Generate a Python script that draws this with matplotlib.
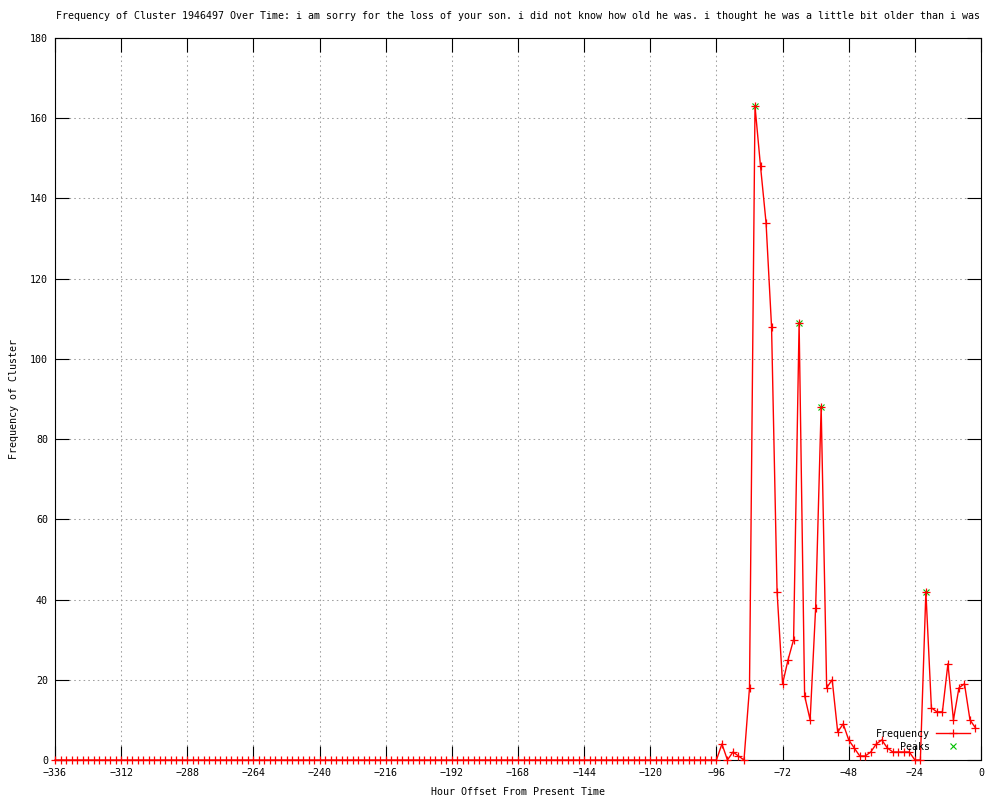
import numpy as np
import matplotlib
matplotlib.use("Agg")
import matplotlib.pyplot as plt
from matplotlib.lines import Line2D

# ── Data ─────────────────────────────────────────────────────────────────────

title = ("Frequency of Cluster 1946497 Over Time: i am sorry for the loss of your son. "
         "i did not know how old he was. i thought he was a little bit older than i was")

hours = np.arange(-336, 0, 2)

# -336 .. -96 : flat zero
freq_quiet = [
    0, 0, 0, 0, 0, 0, 0, 0, 0, 0, 0,
    0, 0, 0, 0, 0, 0, 0, 0, 0, 0, 0,
    0, 0, 0, 0, 0, 0, 0, 0, 0, 0, 0,
    0, 0, 0, 0, 0, 0, 0, 0, 0, 0, 0,
    0, 0, 0, 0, 0, 0, 0, 0, 0, 0, 0,
    0, 0, 0, 0, 0, 0, 0, 0, 0, 0, 0,
    0, 0, 0, 0, 0, 0, 0, 0, 0, 0, 0,
    0, 0, 0, 0, 0, 0, 0, 0, 0, 0, 0,
    0, 0, 0, 0, 0, 0, 0, 0, 0, 0, 0,
    0, 0, 0, 0, 0, 0, 0, 0, 0, 0, 0,
    0, 0, 0, 0, 0, 0, 0, 0, 0, 0, 0,
]
# -94 .. -2
freq_active = [
    4, 0, 2, 1, 0, 18, 163, 148, 134, 108,
    42, 19, 25, 30, 109, 16, 10, 38, 88, 18,
    20, 7, 9, 5, 3, 1, 1, 2, 4, 5,
    3, 2, 2, 2, 2, 0, 0, 42, 13, 12,
    12, 24, 10, 18, 19, 10, 8,
]
frequency = freq_quiet + freq_active

peak_hours = [-82, -66, -58, -20]
peak_values = [163, 109, 88, 42]

x_ticks = list(range(-336, 1, 24))
y_ticks = list(range(0, 181, 20))

# ── Plot ─────────────────────────────────────────────────────────────────────

plt.rcParams["font.family"] = ["DejaVu Sans Mono"]
fs = 7.2

fig = plt.figure(figsize=(10, 8), dpi=100)
ax = fig.add_axes([0.055, 0.05, 0.926, 0.9025])

ax.plot(peak_hours, peak_values, linestyle="none", marker="x", color="#00c000",
        markersize=5, markeredgewidth=0.8, clip_on=False, zorder=2)
ax.plot(hours, frequency, color="red", linewidth=1.0, marker="+",
        markersize=6, markeredgewidth=0.9, clip_on=False, zorder=3)

ax.set_xlim(-336, 0)
ax.set_ylim(0, 180)
ax.set_xticks(x_ticks)
ax.set_yticks(y_ticks)
ax.tick_params(direction="in", length=10, width=0.8, top=True, right=True,
               labelsize=fs, pad=5)
ax.tick_params(axis="x", pad=6)
ax.grid(True, color="#a0a0a0", linestyle=(0, (1.5, 3)), linewidth=0.75)
for s in ax.spines.values():
    s.set_linewidth(0.8)

ax.set_title(title, fontsize=fs, pad=14)
ax.set_xlabel("Hour Offset From Present Time", fontsize=fs, labelpad=6)
ax.set_ylabel("Frequency of Cluster", fontsize=fs, labelpad=8)

handles = [
    Line2D([], [], color="red", linewidth=1.0, marker="+", markersize=6,
           markeredgewidth=0.9),
    Line2D([], [], linestyle="none", color="#00c000", marker="x", markersize=5,
           markeredgewidth=0.8),
]
ax.legend(handles, ["Frequency", "Peaks"], loc="lower right",
          bbox_to_anchor=(0.995, 0.003), frameon=False, markerfirst=False,
          fontsize=fs, handlelength=3.4, labelspacing=0.3, handletextpad=0.6,
          borderpad=0.1, numpoints=1)

fig.savefig("out.png", dpi=100)
